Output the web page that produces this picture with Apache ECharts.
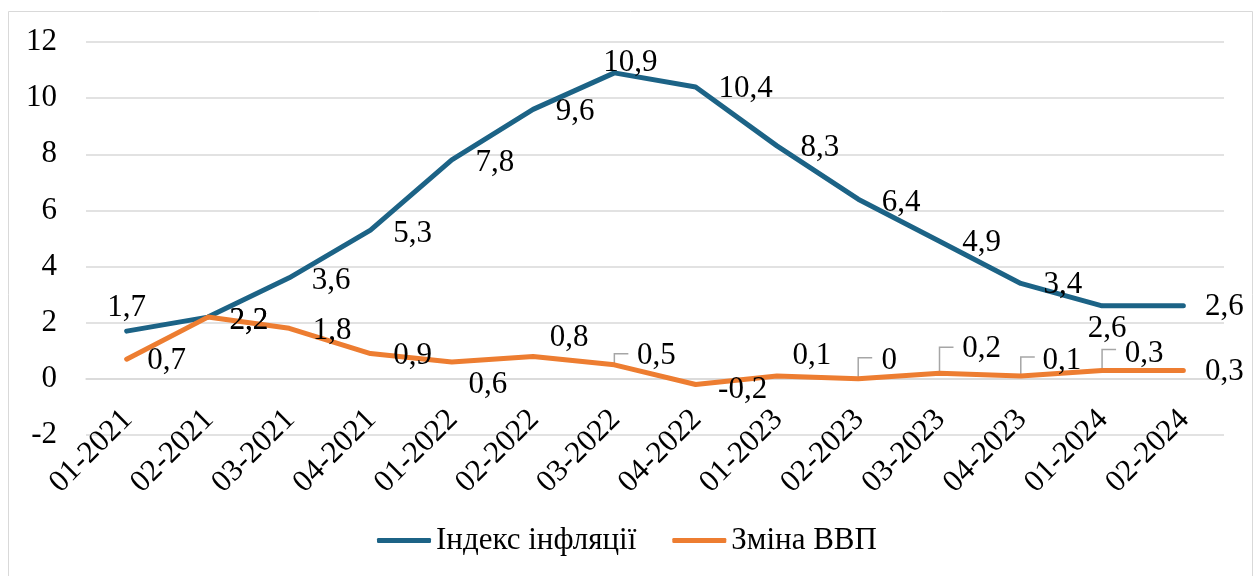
<!DOCTYPE html>
<html>
<head>
<meta charset="utf-8">
<script src="https://cdn.jsdelivr.net/npm/echarts@6/dist/echarts.min.js"></script>
<style>
html,body{margin:0;padding:0;background:#fff;}
#chart{width:1254px;height:576px;}
</style>
</head>
<body>
<div id="chart"></div>
<script>
// ---- data ----
const categories = ['01-2021','02-2021','03-2021','04-2021','01-2022','02-2022','03-2022','04-2022','01-2023','02-2023','03-2023','04-2023','01-2024','02-2024'];
const inflation = [1.7, 2.2, 3.6, 5.3, 7.8, 9.6, 10.9, 10.4, 8.3, 6.4, 4.9, 3.4, 2.6, 2.6];
const gdpChange = [0.7, 2.2, 1.8, 0.9, 0.6, 0.8, 0.5, -0.2, 0.1, 0, 0.2, 0.1, 0.3, 0.3];
const seriesNames = ['Індекс інфляції', 'Зміна ВВП'];
const yMin = -2, yMax = 12, yStep = 2;

// ---- label placement (style only) ----
const inflationLabelOffset = [[0,-23],[41,4],[42,3],[42,4],[43,3],[42,2],[16,-10],[50,2],[43,2],[43,4],[42,2],[42,1],[5,23],[41,1]];
const gdpLabelOffset = [[40,2],[41,4],[43,3],[42,2],[36,23],[36,-19],[42,-9],[47,5],[35,-20],[31,-18],[42,-24],[41,-15],[42,-17],[41,1]];
const gdpLeaderRise = [0,0,0,0,0,0,11,0,0,21,26,19,21,0];

const FONT = "'Liberation Serif','Times New Roman',serif";
const FS = 31;
const BLUE = '#1c6386';
const ORANGE = '#ed7d31';
const fmt = v => String(v).replace('.', ',');

function withLabels(values, offsets) {
  return values.map((v, i) => ({ value: v, label: { offset: offsets[i] } }));
}

const leaderData = gdpChange.map((v, i) => [i, v, gdpLeaderRise[i]]).filter(d => d[2] > 0);

const chart = echarts.init(document.getElementById('chart'), null, { renderer: 'canvas' });
chart.setOption({
  animation: false,
  backgroundColor: '#fff',
  graphic: [{
    type: 'rect', silent: true, z: -10,
    shape: { x: 8.5, y: 11.5, width: 1244, height: 620 },
    style: { fill: 'none', stroke: '#d9d9d9', lineWidth: 1 }
  }],
  grid: { left: 86, right: 30, top: 42, bottom: 141, containLabel: false },
  legend: {
    data: seriesNames,
    left: 377, top: 525,
    padding: 0,
    itemWidth: 54, itemHeight: 5, itemGap: 36,
    icon: 'roundRect',
    textStyle: { fontFamily: FONT, fontSize: FS, color: '#000' }
  },
  xAxis: {
    type: 'category',
    data: categories,
    boundaryGap: true,
    axisLine: { show: true, onZero: false, lineStyle: { color: '#d9d9d9', width: 1.5 } },
    axisTick: { show: false },
    axisLabel: {
      rotate: 45, interval: 0, margin: 15,
      align: 'right', verticalAlign: 'top',
      padding: [0, 14, 0, 0],
      fontFamily: FONT, fontSize: FS, color: '#000'
    },
    splitLine: { show: false }
  },
  yAxis: {
    type: 'value', min: yMin, max: yMax, interval: yStep,
    axisLine: { show: false }, axisTick: { show: false },
    axisLabel: { margin: 29, fontFamily: FONT, fontSize: FS, color: '#000' },
    splitLine: { lineStyle: { color: '#d9d9d9', width: 1.5 } }
  },
  series: [
    {
      name: seriesNames[0], type: 'line',
      data: withLabels(inflation, inflationLabelOffset),
      symbol: 'circle', symbolSize: 2, showSymbol: true,
      itemStyle: { color: BLUE },
      lineStyle: { color: BLUE, width: 5, cap: 'round', join: 'round' },
      label: {
        show: true, position: 'inside', formatter: p => fmt(p.value),
        fontFamily: FONT, fontSize: FS, color: '#000'
      },
      z: 3
    },
    {
      name: seriesNames[1], type: 'line',
      data: withLabels(gdpChange, gdpLabelOffset),
      symbol: 'circle', symbolSize: 2, showSymbol: true,
      itemStyle: { color: ORANGE },
      lineStyle: { color: ORANGE, width: 5, cap: 'round', join: 'round' },
      label: {
        show: true, position: 'inside', formatter: p => fmt(p.value),
        fontFamily: FONT, fontSize: FS, color: '#000'
      },
      z: 4
    },
    {
      name: 'leaders', type: 'custom',
      data: leaderData,
      encode: { x: 0, y: 1 },
      silent: true, z: 2,
      renderItem: function (params, api) {
        const p = api.coord([api.value(0), api.value(1)]);
        const rise = api.value(2);
        return {
          type: 'polyline',
          shape: { points: [[p[0], p[1]], [p[0], p[1] - rise], [p[0] + 14, p[1] - rise]] },
          style: { stroke: '#a6a6a6', lineWidth: 1.5, fill: null }
        };
      }
    }
  ]
});

// Place the category axis on the zero line (as the original chart does), using the value scale.
const pxZero = chart.convertToPixel({ yAxisIndex: 0 }, 0);
const pxMin = chart.convertToPixel({ yAxisIndex: 0 }, yMin);
chart.setOption({ xAxis: { offset: pxZero - pxMin } });
</script>
</body>
</html>
